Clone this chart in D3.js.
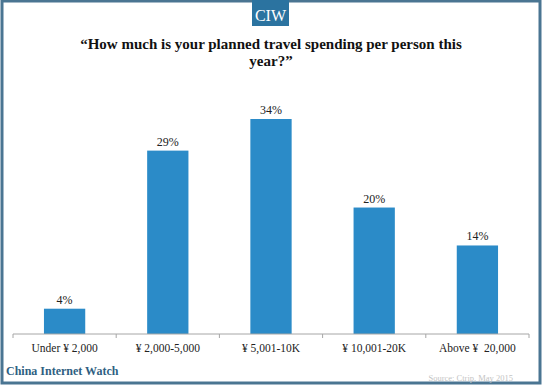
<!DOCTYPE html>
<html>
<head>
<meta charset="utf-8">
<script src="https://cdn.jsdelivr.net/npm/d3@7"></script>
<style>
  body { margin: 0; background: #fff; }
  svg { display: block; }
</style>
</head>
<body>
<div id="chart"></div>
<script>
var categorias = ["Under \u00a5 2,000", "\u00a5 2,000-5,000", "\u00a5 5,001-10K", "\u00a5 10,001-20K", "Above \u00a5\u00a0 20,000"];
var valores = [4, 29, 34, 20, 14];
var titulo = ["\u201cHow much is your planned travel spending per person this", "year?\u201d"];

var w = 543, h = 387;
var azul = "#2b8bc8";

var svg = d3.select("#chart").append("svg")
	.attr("width", w)
	.attr("height", h);

// marco
svg.append("rect")
	.attr("x", 2).attr("y", 1)
	.attr("width", w - 5).attr("height", h - 5)
	.attr("fill", "#fff")
	.attr("stroke", "#4a7592")
	.attr("stroke-width", 3);

// caja CIW
svg.append("rect")
	.attr("x", 252).attr("y", 0)
	.attr("width", 37).attr("height", 26)
	.attr("fill", "#2b73a0");
svg.append("text")
	.attr("x", 270.5).attr("y", 21)
	.attr("text-anchor", "middle")
	.attr("font-family", "Liberation Serif")
	.attr("font-size", 16)
	.attr("fill", "#fff")
	.text("CIW");

svg.selectAll(".titulo")
	.data(titulo)
	.enter()
	.append("text")
	.attr("class", "titulo")
	.attr("x", 271)
	.attr("y", function (d, i) { return 49 + i * 17; })
	.attr("text-anchor", "middle")
	.attr("font-family", "Liberation Serif")
	.attr("font-weight", "bold")
	.attr("font-size", 15)
	.attr("fill", "#111")
	.text(function (d) { return d; });

var x = d3.scaleBand()
	.domain(categorias)
	.range([13, 529])
	.paddingInner(0.6)
	.paddingOuter(0.3);

var y = d3.scaleLinear()
	.domain([0, 34])
	.range([334, 119]);

svg.selectAll(".barra")
	.data(valores)
	.enter()
	.append("rect")
	.attr("class", "barra")
	.attr("x", function (d, i) { return x(categorias[i]); })
	.attr("y", function (d) { return y(d); })
	.attr("width", x.bandwidth())
	.attr("height", function (d) { return y(0) - y(d); })
	.attr("fill", azul);

svg.selectAll(".valor")
	.data(valores)
	.enter()
	.append("text")
	.attr("class", "valor")
	.attr("x", function (d, i) { return x(categorias[i]) + x.bandwidth() / 2; })
	.attr("y", function (d) { return y(d) - 5; })
	.attr("text-anchor", "middle")
	.attr("font-family", "Liberation Serif")
	.attr("font-size", 12)
	.attr("fill", "#222")
	.text(function (d) { return d + "%"; });

// eje x
var eje = svg.append("g").attr("transform", "translate(0," + y(0) + ")");
eje.append("line")
	.attr("x1", 13).attr("x2", 529)
	.attr("stroke", "#a6a6a6");
var bordes = d3.range(categorias.length + 1).map(function (i) { return 13 + i * x.step(); });
eje.selectAll(".tick")
	.data(bordes)
	.enter()
	.append("line")
	.attr("x1", function (d) { return d; })
	.attr("x2", function (d) { return d; })
	.attr("y1", 0).attr("y2", 4)
	.attr("stroke", "#a6a6a6");
eje.selectAll(".etiqueta")
	.data(categorias)
	.enter()
	.append("text")
	.attr("x", function (d) { return x(d) + x.bandwidth() / 2; })
	.attr("y", 18)
	.attr("text-anchor", "middle")
	.attr("font-family", "Liberation Serif")
	.attr("font-size", 11.5)
	.attr("fill", "#222")
	.text(function (d) { return d; });

svg.append("text")
	.attr("x", 6).attr("y", 375)
	.attr("font-family", "Liberation Serif")
	.attr("font-weight", "bold")
	.attr("font-size", 12)
	.attr("fill", "#2f5f82")
	.text("China Internet Watch");

svg.append("text")
	.attr("x", 513).attr("y", 381)
	.attr("text-anchor", "end")
	.attr("font-family", "Liberation Serif")
	.attr("font-size", 8.5)
	.attr("fill", "#c4c4c4")
	.text("Source: Ctrip, May 2015");
</script>
</body>
</html>
